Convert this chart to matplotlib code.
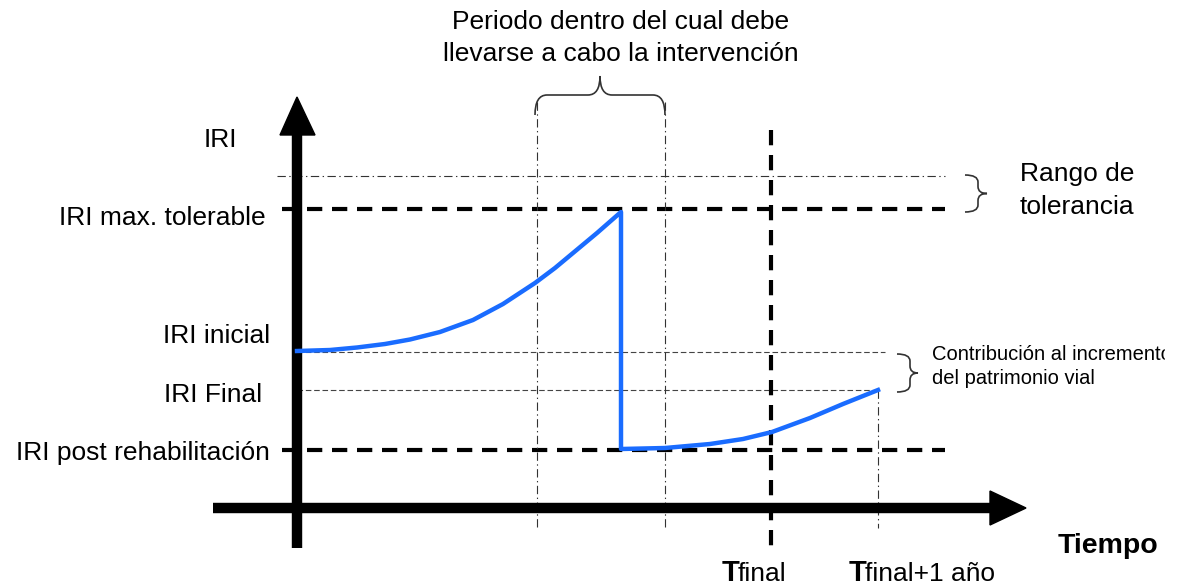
import matplotlib.pyplot as plt
from matplotlib.path import Path
from matplotlib.patches import PathPatch, Polygon, Rectangle

plt.rcParams['font.family'] = ['Liberation Sans', 'DejaVu Sans']
plt.rcParams['lines.scale_dashes'] = False

# schematic drawn in image units (x to the right, y downwards)
# IRI levels
y_max_range = 176
y_max_tol = 209
y_inicial = 352
y_final = 390
y_post = 450

# time marks
x_origin = 297
x_win_start = 537
x_win_end = 665
x_tfinal = 771
x_tfinal1 = 878

# blue IRI curve, before and after the rehabilitation
curve1_x = [297, 330, 357, 385, 410, 440, 473, 503, 535, 555, 573, 597, 621]
curve1_y = [351, 350, 347.5, 344, 339.5, 332, 320, 304, 283, 268, 253, 233, 212]
curve2_x = [621, 665, 710, 743, 772, 810, 843, 878]
curve2_y = [449, 448, 444, 439, 432, 418, 404, 390]

left_labels = ["IRI", "IRI max. tolerable", "IRI inicial", "IRI Final", "IRI post rehabilitación"]
left_label_y = [140, 218, 336, 395, 453]
left_label_x = [237, 266, 270, 262, 270]

fig = plt.figure(figsize=(11.79, 5.88), dpi=100)
ax = fig.add_axes([0, 0, 1, 1])
ax.set_xlim(0, 1179)
ax.set_ylim(588, 0)
ax.axis('off')

thin = dict(color='#333333', lw=0.8, dashes=(6, 2.5, 1, 2.5))
thick = dict(color='black', lw=3, dashes=(11, 7))
mid = dict(color='#444444', lw=0.8, dashes=(4, 2))

# horizontal reference lines
ax.plot([277, 945], [y_max_range, y_max_range], **thin)
ax.plot([282, 945], [y_max_tol, y_max_tol], **thick)
ax.plot([297, 885], [y_inicial, y_inicial], **mid)
ax.plot([297, 880], [y_final, y_final], **mid)
ax.plot([282, 945], [y_post, y_post], **thick)

# vertical reference lines
ax.plot([x_win_start, x_win_start], [102, 528], **thin)
ax.plot([x_win_end, x_win_end], [102, 528], **thin)
ax.plot([x_tfinal, x_tfinal], [130, 548], **thick)
ax.plot([x_tfinal1, x_tfinal1], [390, 528], **thin)

# axes with arrowheads
ax.plot([x_origin, x_origin], [548, 130], color='black', lw=7.5, solid_capstyle='butt')
ax.add_patch(Polygon([[x_origin, 97], [280, 135], [315, 135]], closed=True, color='black'))
ax.plot([213, 995], [508, 508], color='black', lw=7.5, solid_capstyle='butt')
ax.add_patch(Polygon([[1026, 508], [990, 491], [990, 525]], closed=True, color='black'))

# IRI curve
blue = '#1a6cff'
ax.plot(curve1_x + curve2_x, curve1_y + curve2_y, color=blue, lw=3.2,
        solid_joinstyle='round', zorder=5)


def brace(x0, y0, length, h, m, q, orient):
    # local coords: u along the brace, v towards the tip
    pts = [(0, 0), (0, m), (q, m), (length / 2 - q, m), (length / 2, m), (length / 2, h),
           (length / 2, m), (length / 2 + q, m), (length - q, m), (length, m), (length, 0)]
    codes = [Path.MOVETO, Path.CURVE3, Path.CURVE3, Path.LINETO, Path.CURVE3, Path.CURVE3,
             Path.CURVE3, Path.CURVE3, Path.LINETO, Path.CURVE3, Path.CURVE3]
    if orient == 'up':
        verts = [(x0 + u, y0 - v) for u, v in pts]
    else:
        verts = [(x0 + v, y0 + u) for u, v in pts]
    ax.add_patch(PathPatch(Path(verts, codes), fill=False, lw=1.2, color='#333333'))


brace(535, 115, 130, 39, 20, 12, 'up')
brace(965, 175, 37, 22, 13, 7, 'right')
brace(897, 354, 38, 21, 13, 7, 'right')

# texts
for lab, lx, ly in zip(left_labels, left_label_x, left_label_y):
    ax.text(lx, ly, lab, fontsize=19, ha='right', va='center')

ax.text(621, 22, "Periodo dentro del cual debe", fontsize=19, ha='center', va='center')
ax.text(621, 54, "llevarse a cabo la intervención", fontsize=19, ha='center', va='center')
ax.text(1020, 174, "Rango de", fontsize=19, ha='left', va='center')
ax.text(1020, 207, "tolerancia", fontsize=19, ha='left', va='center')
ax.text(932, 354, "Contribución al incremento", fontsize=14.5, ha='left', va='center')
# the source picture is cut off on the right of this line
ax.add_patch(Rectangle((1165, 338), 20, 32, color='white', zorder=10))
ax.text(932, 379, "del patrimonio vial", fontsize=14.5, ha='left', va='center')
ax.text(1058, 546, "Tiempo", fontsize=20.5, fontweight='bold', ha='left', va='center')

ax.text(722, 573, "T", fontsize=21, fontweight='bold', ha='left', va='center')
ax.text(738, 574, "final", fontsize=19, ha='left', va='center')
ax.text(849, 573, "T", fontsize=21, fontweight='bold', ha='left', va='center')
ax.text(865, 574, "final+1 año", fontsize=19, ha='left', va='center')

fig.savefig('out.png', dpi=100)
